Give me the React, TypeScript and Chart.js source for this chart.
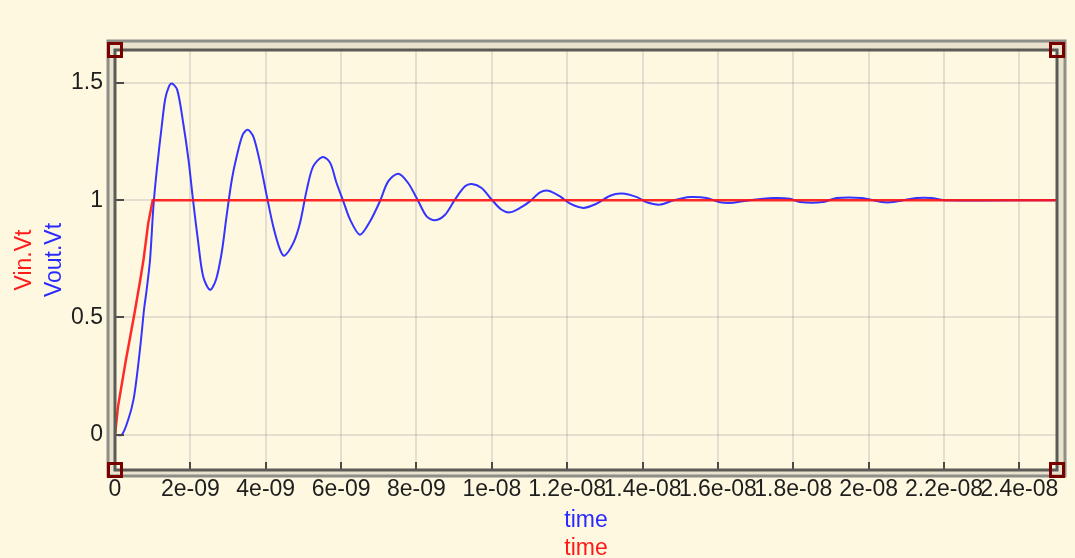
import React, { useEffect, useRef } from 'react';
import { Chart, registerables } from 'chart.js';

Chart.register(...registerables);

// x axis in nanoseconds, labels as shown in the reference
const xTickValues = [0, 2, 4, 6, 8, 10, 12, 14, 16, 18, 20, 22, 24];
const xTickLabels = ['0', '2e-09', '4e-09', '6e-09', '8e-09', '1e-08', '1.2e-08', '1.4e-08', '1.6e-08', '1.8e-08', '2e-08', '2.2e-08', '2.4e-08'];
const yTickValues = [0, 0.5, 1, 1.5];
const yTickLabels = ['0', '0.5', '1', '1.5'];

const vinTime = [0, 0.08, 0.28, 0.52, 0.66, 0.76, 0.88, 1.0, 25];
const vinValues = [0, 0.12, 0.31, 0.52, 0.65, 0.75, 0.9, 1.0, 1.0];

const voutTime = [
  0, 0.18, 0.35, 0.49, 0.59, 0.69, 0.77, 0.84, 0.93, 1.02, 1.11, 1.24, 1.33, 1.42, 1.505,
  1.65, 1.81, 1.95, 2.08, 2.21, 2.34, 2.52, 2.68, 2.83, 2.96, 3.1, 3.23, 3.39, 3.52,
  3.67, 3.85, 4.03, 4.2, 4.38, 4.49, 4.73, 4.91, 5.09, 5.26, 5.51, 5.71, 5.88, 6.06,
  6.24, 6.5, 6.77, 7.03, 7.25, 7.52, 7.78, 8.05, 8.27, 8.49, 8.76, 9.02, 9.29, 9.47,
  9.73, 10.0, 10.26, 10.48, 10.75, 11.01, 11.28, 11.5, 11.81, 12.08, 12.43, 12.78,
  13.14, 13.45, 13.85, 14.11, 14.46, 14.82, 15.26, 15.7, 16.06, 16.41, 16.76, 17.47,
  17.91, 18.18, 18.79, 19.15, 19.82, 20.35, 20.65, 21.28, 21.67, 22.0, 25.0,
];
const voutValues = [
  0, 0, 0.064, 0.149, 0.263, 0.405, 0.533, 0.618, 0.746, 0.974, 1.13, 1.315, 1.429, 1.48, 1.497,
  1.471, 1.329, 1.173, 0.988, 0.818, 0.675, 0.618, 0.661, 0.775, 0.931, 1.087, 1.187, 1.279, 1.3,
  1.272, 1.159, 1.016, 0.888, 0.789, 0.763, 0.817, 0.903, 1.045, 1.144, 1.184, 1.159, 1.073, 0.995,
  0.917, 0.853, 0.91, 0.995, 1.08, 1.113, 1.073, 0.995, 0.931, 0.914, 0.938, 1.002, 1.059, 1.069,
  1.052, 1.002, 0.959, 0.948, 0.967, 0.995, 1.033, 1.04, 1.016, 0.985, 0.967, 0.985,
  1.019, 1.028, 1.013, 0.991, 0.981, 0.999, 1.013, 1.009, 0.991, 0.989, 0.998, 1.009,
  1.006, 0.992, 0.992, 1.009, 1.009, 0.992, 0.992, 1.009, 1.009, 1.0, 1.0,
];

const FONT = '"Liberation Sans", Arial, sans-serif';

const framePlugin = {
  id: 'framePlugin',
  afterDraw(chart: any) {
    const { ctx, chartArea: a, scales } = chart;
    const x = scales.x;
    const y = scales.y;
    ctx.save();
    // tick marks inside plot
    ctx.strokeStyle = '#4a4a46';
    ctx.lineWidth = 2;
    for (const v of xTickValues) {
      const px = Math.round(x.getPixelForValue(v));
      ctx.beginPath();
      ctx.moveTo(px, a.bottom);
      ctx.lineTo(px, a.bottom - 8);
      ctx.stroke();
    }
    for (const v of yTickValues) {
      const py = Math.round(y.getPixelForValue(v));
      ctx.beginPath();
      ctx.moveTo(a.left, py);
      ctx.lineTo(a.left + 9, py);
      ctx.stroke();
    }
    // frame band
    const o = { l: a.left - 7, t: a.top - 9, r: a.right + 8, b: a.bottom + 6 };
    ctx.fillStyle = 'rgba(150,150,140,0.22)';
    ctx.beginPath();
    ctx.rect(o.l, o.t, o.r - o.l, o.b - o.t);
    ctx.rect(a.left, a.top, a.right - a.left, a.bottom - a.top);
    ctx.fill('evenodd');
    ctx.lineWidth = 3;
    ctx.strokeStyle = '#8e8e88';
    ctx.strokeRect(o.l, o.t, o.r - o.l, o.b - o.t);
    ctx.strokeStyle = '#5c5c56';
    ctx.strokeRect(a.left, a.top, a.right - a.left, a.bottom - a.top);
    // red corner squares
    ctx.strokeStyle = '#7a0000';
    ctx.lineWidth = 3;
    const corners = [
      [a.left, a.top], [a.right, a.top], [a.left, a.bottom], [a.right, a.bottom],
    ];
    for (const [cx, cy] of corners) {
      ctx.strokeRect(cx - 6.5, cy - 6.5, 13, 13);
    }
    // axis titles
    ctx.font = `23px ${FONT}`;
    ctx.textAlign = 'center';
    ctx.textBaseline = 'alphabetic';
    const midX = (a.left + a.right) / 2;
    ctx.fillStyle = '#2a2aff';
    ctx.fillText('time', midX, 526.5);
    ctx.fillStyle = '#ff1a1a';
    ctx.fillText('time', midX, 555);
    const midY = (a.top + a.bottom) / 2;
    ctx.save();
    ctx.translate(31, midY);
    ctx.rotate(-Math.PI / 2);
    ctx.fillStyle = '#ff1a1a';
    ctx.fillText('Vin.Vt', 0, 0);
    ctx.restore();
    ctx.save();
    ctx.translate(60.5, midY);
    ctx.rotate(-Math.PI / 2);
    ctx.fillStyle = '#2a2aff';
    ctx.fillText('Vout.Vt', 0, 0);
    ctx.restore();
    ctx.restore();
  },
};

export default function App() {
  const canvasRef = useRef<HTMLCanvasElement | null>(null);

  useEffect(() => {
    const canvas = canvasRef.current;
    if (!canvas) return;
    const chart = new Chart(canvas, {
      type: 'line',
      data: {
        datasets: [
          {
            label: 'Vin.Vt',
            data: vinTime.map((t, i) => ({ x: t, y: vinValues[i] })),
            borderColor: 'rgba(255,20,20,0.9)',
            borderWidth: 2.5,
            pointRadius: 0,
            tension: 0,
            fill: false,
          },
          {
            label: 'Vout.Vt',
            data: voutTime.map((t, i) => ({ x: t, y: voutValues[i] })),
            borderColor: '#3434ff',
            borderWidth: 2,
            pointRadius: 0,
            tension: 0.3,
            fill: false,
          },
        ],
      },
      options: {
        animation: false,
        responsive: false,
        maintainAspectRatio: false,
        devicePixelRatio: 1,
        layout: { padding: { left: 0, top: 50, right: 1075 - 1057, bottom: 0 } },
        plugins: {
          legend: { display: false },
          tooltip: { enabled: false },
          title: { display: false },
        },
        scales: {
          x: {
            type: 'linear',
            min: 0,
            max: 25,
            afterFit: (s: any) => { s.height = 558 - 470; },
            afterBuildTicks: (s: any) => { s.ticks = xTickValues.map((v) => ({ value: v })); },
            grid: { color: 'rgba(150,150,150,0.27)', lineWidth: 2, drawTicks: false },
            border: { display: false },
            ticks: {
              autoSkip: false,
              maxRotation: 0,
              minRotation: 0,
              padding: 6,
              color: '#1e1e1e',
              font: { family: FONT, size: 23 },
              callback: (_v: any, i: number) => xTickLabels[i],
            },
          },
          y: {
            type: 'linear',
            min: -0.15,
            max: 1.64,
            afterFit: (s: any) => { s.width = 115; },
            afterBuildTicks: (s: any) => { s.ticks = yTickValues.map((v) => ({ value: v })); },
            grid: { color: 'rgba(150,150,150,0.27)', lineWidth: 2, drawTicks: false },
            border: { display: false },
            ticks: {
              autoSkip: false,
              padding: 12,
              color: '#1e1e1e',
              font: { family: FONT, size: 23 },
              callback: (_v: any, i: number) => yTickLabels[i],
            },
          },
        },
      },
      plugins: [framePlugin],
    });
    return () => chart.destroy();
  }, []);

  return (
    <div style={{ position: 'fixed', left: 0, top: 0, width: 1075, height: 558, background: '#fff8e1' }}>
      <canvas ref={canvasRef} width={1075} height={558} style={{ display: 'block', width: 1075, height: 558 }} />
    </div>
  );
}
